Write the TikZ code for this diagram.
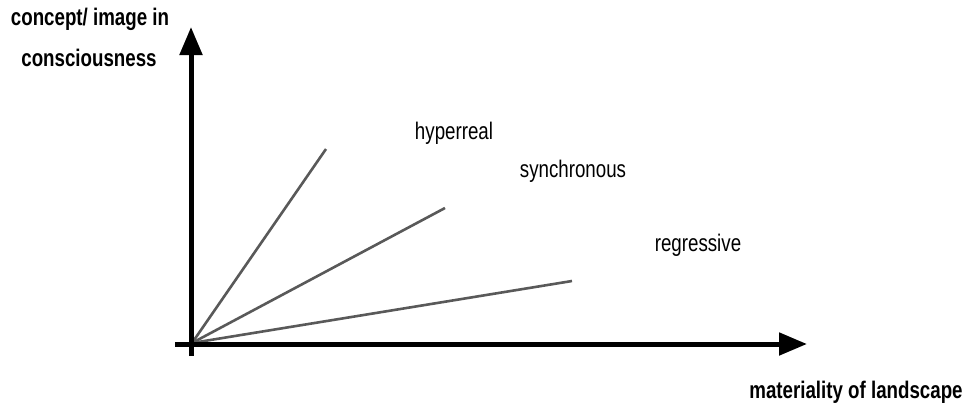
\documentclass[tikz,border=0pt]{standalone}
\usepackage{fontspec}
\setmainfont{Liberation Sans}
\newfontfamily\condfont[FakeStretch=0.78]{Liberation Sans}
\usetikzlibrary{arrows.meta}
\begin{document}
\begin{tikzpicture}[x=1pt,y=-1pt,
  axis/.style={line width=5pt,-{Triangle[length=28pt,width=22pt]}},
  ray/.style={line width=2.6pt,draw=black!65},
  lbl/.style={font=\condfont\fontsize{24}{26}\selectfont,inner sep=0pt},
  axlbl/.style={font=\condfont\fontsize{24}{26}\selectfont\bfseries,inner sep=0pt}]
\useasboundingbox (0,0) rectangle (972,408);
\coordinate (O) at (192,343);
\coordinate (ybot) at (191,356);
\coordinate (ytop) at (191,27);
\coordinate (xleft) at (175,344);
\coordinate (xright) at (807,344);
\coordinate (h) at (326,149);
\coordinate (s) at (445,208);
\coordinate (r) at (572,281);
\draw[ray] (O) -- (h);
\draw[ray] (O) -- (s);
\draw[ray] (O) -- (r);
\draw[axis] (ybot) -- (ytop);
\draw[axis] (xleft) -- (xright);
\node[lbl] (lh) at (454,133) {hyperreal};
\node[lbl] (ls) at (573,171) {synchronous};
\node[lbl] (lr) at (698,245) {regressive};
\node[axlbl] (ly1) at (90,19) {concept/ image in};
\node[axlbl] (ly2) at (89,58) {consciousness};
\node[axlbl] (lx) at (856,392) {materiality of landscape};
\end{tikzpicture}
\end{document}
